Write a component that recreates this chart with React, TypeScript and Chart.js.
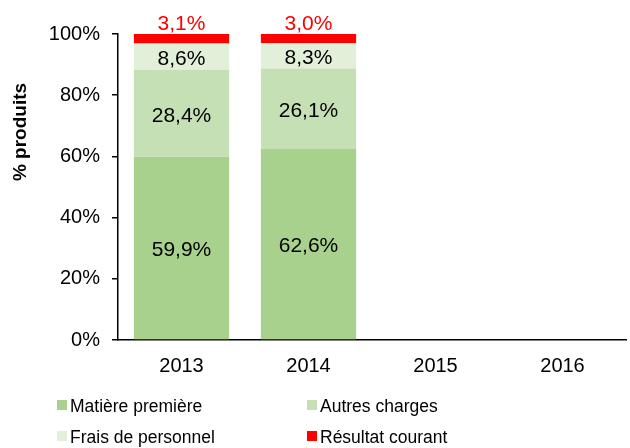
import { useEffect, useRef } from "react";
import { Chart, registerables } from "chart.js";

Chart.register(...registerables);

const categories = ["2013", "2014", "2015", "2016"];
const matierePremiere = [59.9, 62.6, null, null];
const autresCharges = [28.4, 26.1, null, null];
const fraisPersonnel = [8.6, 8.3, null, null];
const resultatCourant = [3.1, 3.0, null, null];
const yTickValues = [0, 20, 40, 60, 80, 100];
const seriesNames = ["Matière première", "Autres charges", "Frais de personnel", "Résultat courant"];
const axisTitle = "% produits";

const FONT = '"Liberation Sans", Arial, sans-serif';

const fmt = (v: number) => v.toFixed(1).replace(".", ",") + "%";

const valueLabels = {
  id: "valueLabels",
  afterDatasetsDraw(chart: any) {
    const ctx = chart.ctx;
    ctx.save();
    ctx.font = `21px ${FONT}`;
    ctx.textAlign = "center";
    chart.data.datasets.forEach((ds: any, di: number) => {
      const meta = chart.getDatasetMeta(di);
      meta.data.forEach((el: any, i: number) => {
        const v = ds.data[i];
        if (v == null) return;
        const txt = fmt(v);
        if (di === 3) {
          ctx.fillStyle = "#ff0000";
          ctx.textBaseline = "alphabetic";
          ctx.fillText(txt, el.x, el.y - 4);
        } else {
          ctx.fillStyle = "#000000";
          ctx.textBaseline = "middle";
          ctx.fillText(txt, el.x, (el.y + el.base) / 2 + 2.5);
        }
      });
    });
    ctx.restore();
  },
};

const extras = {
  id: "extras",
  afterDraw(chart: any) {
    const ctx = chart.ctx;
    ctx.save();
    ctx.font = `bold 19px ${FONT}`;
    ctx.fillStyle = "#000000";
    ctx.textAlign = "center";
    ctx.textBaseline = "middle";
    ctx.translate(21, 132);
    ctx.rotate(-Math.PI / 2);
    ctx.fillText(axisTitle, 0, 0);
    ctx.restore();

    ctx.save();
    ctx.font = `17.5px ${FONT}`;
    ctx.textAlign = "left";
    ctx.textBaseline = "alphabetic";
    const cols = [57, 307];
    const rows = [412, 443];
    chart.data.datasets.forEach((ds: any, di: number) => {
      const cx = cols[di % 2];
      const by = rows[Math.floor(di / 2)];
      ctx.fillStyle = ds.backgroundColor;
      ctx.fillRect(cx, by - 12, 10, 10);
      ctx.fillStyle = "#000000";
      ctx.fillText(ds.label, cx + 13, by);
    });
    ctx.restore();
  },
};

export default function App() {
  const ref = useRef<HTMLCanvasElement | null>(null);
  useEffect(() => {
    if (!ref.current) return;
    const chart = new Chart(ref.current, {
      type: "bar",
      data: {
        labels: categories,
        datasets: [
          { label: seriesNames[0], data: matierePremiere, backgroundColor: "#a9d18e" },
          { label: seriesNames[1], data: autresCharges, backgroundColor: "#c5e0b4" },
          { label: seriesNames[2], data: fraisPersonnel, backgroundColor: "#e2f0d9" },
          { label: seriesNames[3], data: resultatCourant, backgroundColor: "#ff0000" },
        ] as any,
      },
      options: {
        responsive: false,
        animation: false,
        layout: { padding: { left: 0, top: 34, right: 4, bottom: 68 } },
        datasets: { bar: { categoryPercentage: 1, barPercentage: 0.75 } } as any,
        plugins: { legend: { display: false }, tooltip: { enabled: false } },
        scales: {
          x: {
            stacked: true,
            grid: { display: false, drawTicks: false },
            border: { display: true, color: "#000000", width: 1.5 },
            ticks: { color: "#000000", font: { family: FONT, size: 20 }, padding: 14, maxRotation: 0 },
            afterFit: (s: any) => { s.height = 40; },
          },
          y: {
            stacked: true,
            min: 0,
            max: 100,
            afterBuildTicks: (s: any) => { s.ticks = yTickValues.map((v) => ({ value: v })); },
            grid: { drawOnChartArea: false, drawTicks: true, tickLength: 6, color: "#000000", lineWidth: 1.5 },
            border: { display: true, color: "#000000", width: 1.5 },
            ticks: {
              color: "#000000",
              font: { family: FONT, size: 20 },
              padding: 12,
              callback: (v: any) => v + "%",
            },
            afterFit: (s: any) => { s.width = 118; },
          },
        },
      },
      plugins: [valueLabels, extras],
    });
    return () => chart.destroy();
  }, []);
  return (
    <canvas
      ref={ref}
      width={630}
      height={448}
      style={{ position: "absolute", left: 0, top: 0, display: "block" }}
    />
  );
}
